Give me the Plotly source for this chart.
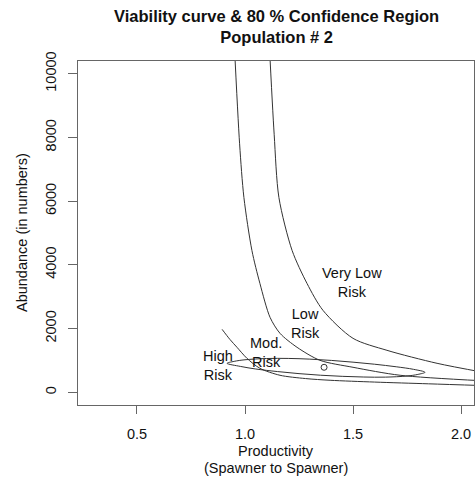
import plotly.graph_objects as go

# Viability curves
high_mod_x = [0.894, 0.930, 0.963, 1.009, 1.069, 1.162, 1.280, 1.394, 1.600, 1.850, 2.100]
high_mod_y = [1975, 1660, 1411, 1066, 752, 533, 430, 376, 320, 265, 210]

mod_low_x = [0.950, 0.975, 0.995, 1.032, 1.069, 1.116, 1.162, 1.241, 1.347, 1.500, 1.718, 2.100]
mod_low_y = [11000, 7800, 6113, 4452, 3417, 2351, 1850, 1411, 1003, 784, 533, 360]

low_vlow_x = [1.112, 1.135, 1.157, 1.218, 1.287, 1.361, 1.500, 1.657, 1.889, 2.100]
low_vlow_y = [11000, 8100, 6113, 4452, 3417, 2571, 1693, 1317, 909, 630]

# 80 % confidence region (ellipse outline)
ell_x = [0.917, 0.95, 1.00, 1.10, 1.20, 1.30, 1.40, 1.50, 1.60, 1.70, 1.78, 1.833,
         1.80, 1.75, 1.65, 1.55, 1.45, 1.35, 1.25, 1.15, 1.05, 0.98, 0.917]
ell_y = [909, 970, 1020, 1060, 1062, 1040, 1000, 945, 880, 800, 720, 627,
         560, 510, 475, 478, 500, 535, 585, 650, 730, 810, 909]

est_x = [1.366]
est_y = [784]

x_ticks = [0.5, 1.0, 1.5, 2.0]
y_ticks = [0, 2000, 4000, 6000, 8000, 10000]

labels = ["Very Low<br>Risk", "Low<br>Risk", "Mod.<br>Risk", "High<br>Risk"]
label_x = [1.495, 1.278, 1.097, 0.875]
label_y = [3449, 2163, 1254, 846]

FONT = "Liberation Sans, Arial, sans-serif"
LC = "#333333"

fig = go.Figure()
for xs, ys in [(high_mod_x, high_mod_y), (mod_low_x, mod_low_y), (low_vlow_x, low_vlow_y)]:
    fig.add_trace(go.Scatter(x=xs, y=ys, mode="lines", line=dict(color=LC, width=1, shape="spline", smoothing=0.8),
                             showlegend=False, hoverinfo="skip"))
fig.add_trace(go.Scatter(x=ell_x, y=ell_y, mode="lines", line=dict(color=LC, width=1, shape="spline", smoothing=1.0),
                         showlegend=False, hoverinfo="skip"))
fig.add_trace(go.Scatter(x=est_x, y=est_y, mode="markers",
                         marker=dict(symbol="circle-open", size=6, color=LC, line=dict(width=1)),
                         showlegend=False, hoverinfo="skip"))

for t, lx, ly in zip(labels, label_x, label_y):
    fig.add_annotation(x=lx, y=ly, text=t, showarrow=False, font=dict(family=FONT, size=14.5, color="#111"),
                       xanchor="center", yanchor="middle", align="center")

ann = [
    ("<b>Viability curve & 80 % Confidence Region<br>Population # 2</b>", 0.5, 1.1, 0, 16.5),
    ("Productivity", 0.5, -0.1337, 0, 14.5),
    ("(Spawner to Spawner)", 0.5, -0.1831, 0, 14.5),
    ("Abundance (in numbers)", -0.1414, 0.5, -90, 14.5),
]
for t, ax, ay, ang, fs in ann:
    fig.add_annotation(x=ax, y=ay, xref="paper", yref="paper", text=t, showarrow=False, textangle=ang,
                       font=dict(family=FONT, size=fs, color="#111"), xanchor="center", yanchor="middle",
                       align="center")

fig.update_layout(
    width=475, height=479,
    margin=dict(l=78, r=1, t=61, b=74),
    paper_bgcolor="white", plot_bgcolor="white",
    font=dict(family=FONT, size=14.5, color="#111"),
)
fig.update_xaxes(range=[0.227, 2.06], tickvals=x_ticks, ticktext=[f"{v:.1f}" for v in x_ticks],
                 showgrid=False, zeroline=False, showline=True, mirror=True, linecolor="#666", linewidth=1,
                 ticks="outside", ticklen=8, tickcolor="#666", ticklabelstandoff=8)
fig.update_yaxes(range=[-400, 10400], tickvals=y_ticks, ticktext=[str(v) for v in y_ticks], tickangle=-90,
                 showgrid=False, zeroline=False, showline=True, mirror=True, linecolor="#666", linewidth=1,
                 ticks="outside", ticklen=9, tickcolor="#666", ticklabelstandoff=6)

fig.write_html("out.html", config={"displayModeBar": False},
               post_script="document.body.style.margin='0px';document.body.style.overflow='hidden';")
